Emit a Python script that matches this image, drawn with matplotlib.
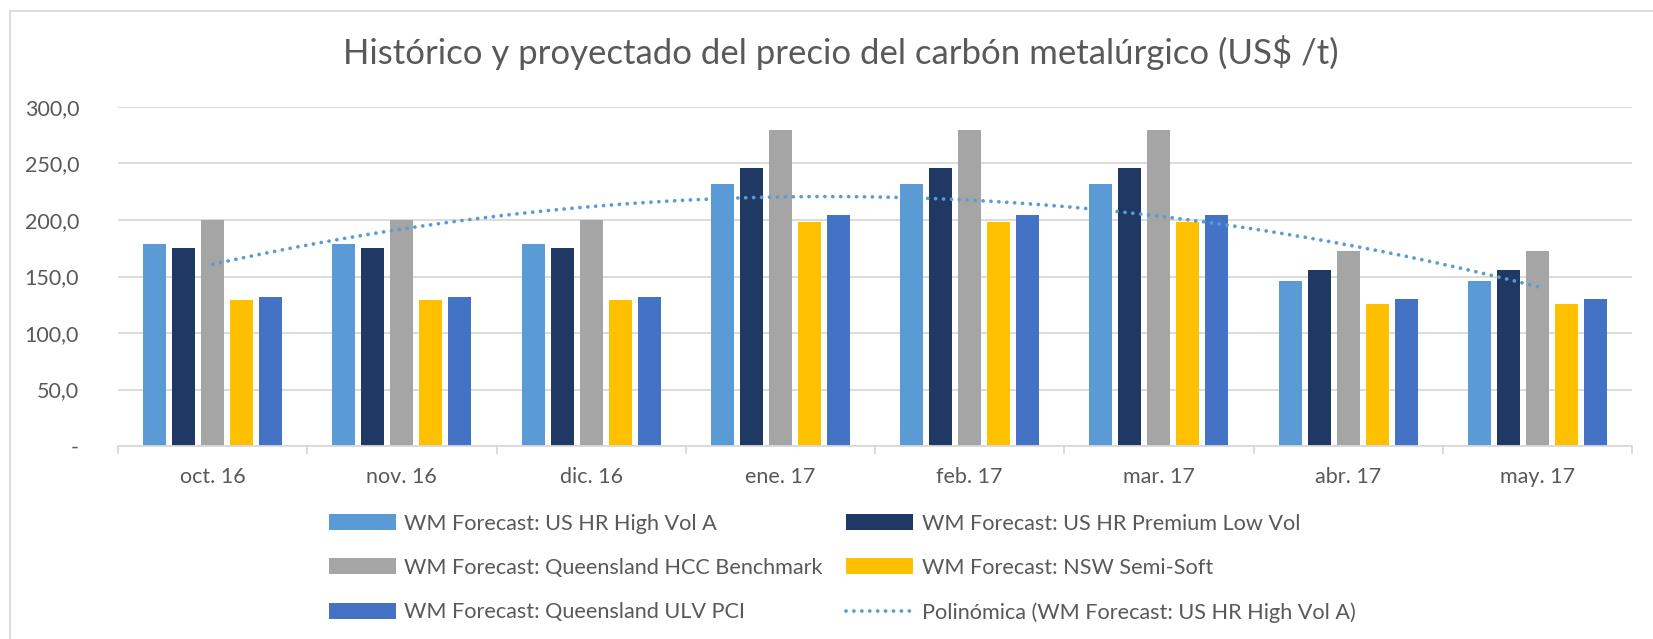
import matplotlib
matplotlib.use("Agg")
import matplotlib.pyplot as plt
from matplotlib.lines import Line2D
import numpy as np

plt.rcParams['font.family'] = ['Lato', 'DejaVu Sans']

months = ['oct. 16', 'nov. 16', 'dic. 16', 'ene. 17', 'feb. 17', 'mar. 17', 'abr. 17', 'may. 17']
high_vol_a = [179, 179, 179, 232, 232, 232, 146, 146]
premium_low_vol = [175, 175, 175, 246, 246, 246, 156, 156]
queensland_hcc = [200, 200, 200, 280, 280, 280, 173, 173]
nsw_semi_soft = [129, 129, 129, 198, 198, 198, 126, 126]
queensland_ulv = [132, 132, 132, 204, 204, 204, 130, 130]
y_ticks = [0, 50, 100, 150, 200, 250, 300]
y_tick_labels = ['-', '50,0', '100,0', '150,0', '200,0', '250,0', '300,0']

series_names = ['WM Forecast: US HR High Vol A',
                'WM Forecast: US HR Premium Low Vol',
                'WM Forecast: Queensland HCC Benchmark',
                'WM Forecast: NSW Semi-Soft',
                'WM Forecast: Queensland ULV PCI']
trend_name = 'Polinómica (WM Forecast: US HR High Vol A)'
colors = ['#5b9bd5', '#203864', '#a5a5a5', '#ffc000', '#4472c4']
text_color = '#595959'
grid_color = '#d9d9d9'


def main():
    series = [high_vol_a, premium_low_vol, queensland_hcc, nsw_semi_soft, queensland_ulv]
    x = np.arange(len(months))

    fig = plt.figure(figsize=(16.53, 6.39), dpi=100)
    ax = fig.add_axes([118 / 1653, 1 - 446 / 639, (1632 - 118) / 1653, (446 - 107) / 639])

    bar_w = 0.1215
    pitch = 0.1532
    handles = []
    for i, (vals, col) in enumerate(zip(series, colors)):
        b = ax.bar(x + (i - 2) * pitch, vals, width=bar_w, color=col, zorder=3,
                   label=series_names[i])
        handles.append(b)

    # polynomial (order 2) trendline like Excel
    coef = np.polyfit(x + 1, high_vol_a, 2)
    xs = np.linspace(0, len(months) - 1, 300)
    ax.plot(xs, np.polyval(coef, xs + 1), color='#5b9bd5', lw=2.7,
            dashes=(0.01, 2.1), dash_capstyle='round', zorder=4)

    ax.set_xlim(-0.5, len(months) - 0.5)
    ax.set_ylim(0, 300)
    ax.set_yticks(y_ticks)
    ax.set_yticklabels(y_tick_labels)
    ax.set_xticks(x)
    ax.set_xticklabels(months)
    ax.set_xticks(np.arange(-0.5, len(months)), minor=True)
    ax.tick_params(axis='x', which='major', length=0, pad=15, labelsize=15.5, colors=text_color)
    ax.tick_params(axis='x', which='minor', length=6, width=1.3, color=grid_color)
    ax.tick_params(axis='y', length=0, pad=28, labelsize=15.5, colors=text_color)

    ax.grid(axis='y', color=grid_color, lw=1.3, zorder=0)
    for s in ['left', 'right', 'top']:
        ax.spines[s].set_visible(False)
    ax.spines['bottom'].set_color(grid_color)
    ax.spines['bottom'].set_linewidth(1.3)
    ax.spines['bottom'].set_zorder(5)

    fig.text(841 / 1653, 1 - 53 / 639, 'Histórico y proyectado del precio del carbón metalúrgico (US$ /t)',
             ha='center', va='center', fontsize=25, color=text_color)

    trend_handle = Line2D([], [], color='#5b9bd5', lw=2.7, dashes=(0.01, 2.1), dash_capstyle='round')
    order = [handles[0], handles[2], handles[4], handles[1], handles[3], trend_handle]
    labels = [series_names[0], series_names[2], series_names[4],
              series_names[1], series_names[3], trend_name]
    fig.legend(order, labels, ncol=2, loc='upper left',
               bbox_to_anchor=(309 / 1653, 1 - 494 / 639), frameon=False,
               fontsize=15.6, labelcolor=text_color, handlelength=3.1, handleheight=0.75,
               handletextpad=0.4, columnspacing=1.08, labelspacing=1.13)

    # chart area border (top and left edges visible)
    fig.add_artist(Line2D([10 / 1653, 10 / 1653], [0, 1 - 11 / 639], color=grid_color, lw=1.3))
    fig.add_artist(Line2D([10 / 1653, 1], [1 - 11 / 639, 1 - 11 / 639], color=grid_color, lw=1.3))

    fig.savefig('out.png', dpi=100)


if __name__ == "__main__":
    main()
